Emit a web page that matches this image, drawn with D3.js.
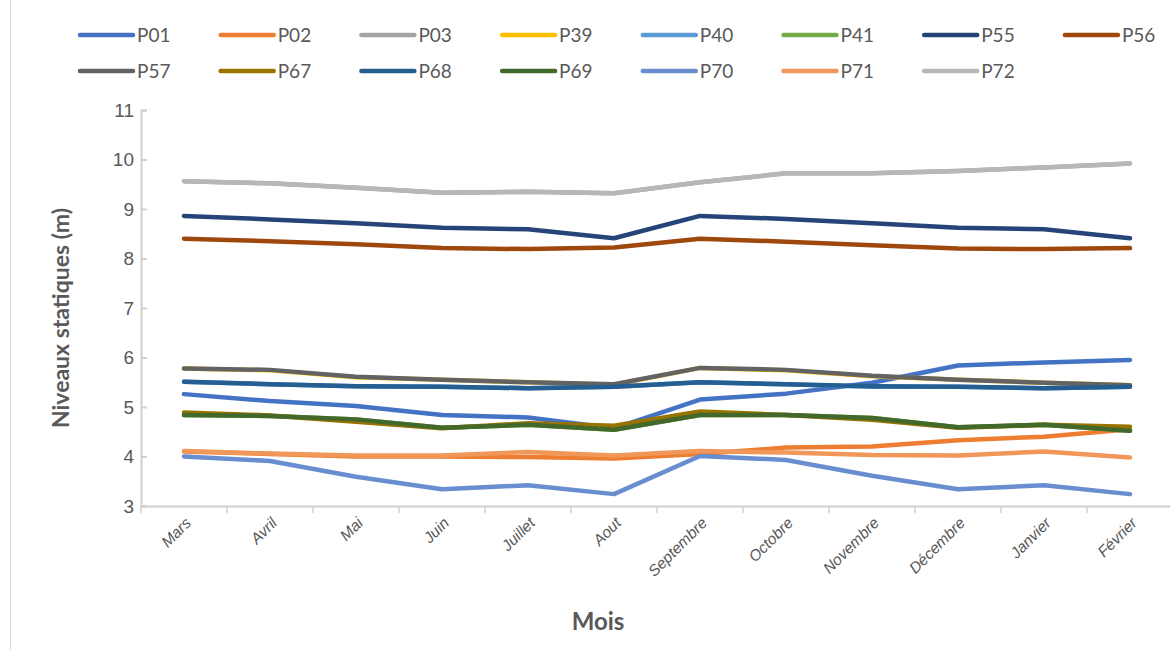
<!DOCTYPE html>
<html>
<head>
<meta charset="utf-8">
<script src="https://cdn.jsdelivr.net/npm/d3@7"></script>
<style>
  body { margin: 0; background: #fff; }
  svg { font-family: Lato, 'Open Sans', sans-serif; }
</style>
</head>
<body>
<svg width="1170" height="650"></svg>
<script>
const months = ['Mars', 'Avril', 'Mai', 'Juin', 'Juillet', 'Aout', 'Septembre', 'Octobre', 'Novembre', 'Décembre', 'Janvier', 'Février'];
const yTicks = [3, 4, 5, 6, 7, 8, 9, 10, 11];

const P01 = [5.26, 5.12, 5.02, 4.84, 4.79, 4.57, 5.15, 5.27, 5.49, 5.84, 5.90, 5.95];
const P02 = [4.10, 4.05, 4.00, 4.00, 3.99, 3.96, 4.05, 4.18, 4.20, 4.33, 4.40, 4.55];
const P03 = [9.56, 9.52, 9.43, 9.33, 9.35, 9.32, 9.54, 9.72, 9.72, 9.77, 9.84, 9.92];
const P39 = [5.78, 5.74, 5.60, 5.55, 5.50, 5.45, 5.79, 5.74, 5.62, 5.55, 5.49, 5.44];
const P40 = [5.51, 5.46, 5.42, 5.41, 5.38, 5.41, 5.50, 5.46, 5.41, 5.41, 5.38, 5.41];
const P41 = [4.84, 4.82, 4.75, 4.58, 4.64, 4.54, 4.84, 4.84, 4.78, 4.59, 4.64, 4.52];
const P55 = [8.86, 8.79, 8.71, 8.62, 8.59, 8.41, 8.86, 8.80, 8.71, 8.62, 8.59, 8.41];
const P56 = [8.40, 8.35, 8.29, 8.21, 8.19, 8.22, 8.40, 8.34, 8.27, 8.20, 8.19, 8.21];
const P57 = [5.78, 5.75, 5.61, 5.55, 5.50, 5.46, 5.79, 5.75, 5.63, 5.55, 5.49, 5.44];
const P67 = [4.89, 4.83, 4.70, 4.57, 4.67, 4.62, 4.91, 4.84, 4.74, 4.58, 4.64, 4.60];
const P68 = [5.51, 5.46, 5.42, 5.41, 5.38, 5.41, 5.50, 5.46, 5.42, 5.41, 5.38, 5.41];
const P69 = [4.84, 4.82, 4.75, 4.58, 4.64, 4.54, 4.84, 4.84, 4.78, 4.59, 4.64, 4.52];
const P70 = [4.00, 3.91, 3.59, 3.34, 3.42, 3.24, 4.01, 3.93, 3.61, 3.34, 3.42, 3.24];
const P71 = [4.11, 4.06, 4.02, 4.02, 4.09, 4.02, 4.11, 4.08, 4.03, 4.02, 4.10, 3.98];
const P72 = [9.56, 9.52, 9.43, 9.33, 9.35, 9.32, 9.54, 9.72, 9.72, 9.77, 9.84, 9.92];

const seriesNames = ['P01', 'P02', 'P03', 'P39', 'P40', 'P41', 'P55', 'P56', 'P57', 'P67', 'P68', 'P69', 'P70', 'P71', 'P72'];
const seriesValues = [P01, P02, P03, P39, P40, P41, P55, P56, P57, P67, P68, P69, P70, P71, P72];
const colors = ['#4472C4', '#ED7D31', '#A5A5A5', '#FFC000', '#5B9BD5', '#70AD47', '#264478', '#9E480E',
  '#636363', '#997300', '#255E91', '#43682B', '#698ED0', '#F1975A', '#B7B7B7'];

const series = seriesNames.map((name, i) => ({ name: name, values: seriesValues[i], color: colors[i] }));

const svg = d3.select('svg');
const textColor = '#595959';
const axisColor = '#D0D0D0';

// frame line on the left
svg.append('line')
  .attr('x1', 10.5).attr('x2', 10.5).attr('y1', 0).attr('y2', 650)
  .attr('stroke', '#D9D9D9').attr('stroke-width', 1);

const x = d3.scaleBand().domain(months).range([141, 1173]);
const y = d3.scaleLinear().domain([3, 11]).range([506, 110]);
const px = (m) => x(m) + x.bandwidth() / 2;

// y axis
const yAxis = svg.append('g').attr('class', 'axis axis-y').attr('transform', 'translate(141,0)')
  .call(d3.axisRight(y).tickValues(yTicks).tickSize(6).tickFormat(d3.format('d')));
yAxis.select('.domain').attr('stroke', axisColor).attr('stroke-width', 2);
yAxis.selectAll('.tick line').attr('stroke', axisColor).attr('stroke-width', 2);
yAxis.selectAll('.tick text')
  .attr('x', -7).attr('text-anchor', 'end')
  .attr('fill', textColor).style('font-size', '19px');

// x axis
const xAxis = svg.append('g').attr('class', 'axis axis-x').attr('transform', 'translate(0,506)')
  .call(d3.axisBottom(x).tickSize(0).tickSizeOuter(0));
xAxis.select('.domain').attr('stroke', axisColor).attr('stroke-width', 2);
xAxis.selectAll('.tick line').remove();
xAxis.selectAll('.tick text')
  .attr('fill', textColor)
  .style('font-size', '15.5px')
  .style('font-style', 'italic')
  .attr('text-anchor', 'end')
  .attr('x', 0).attr('y', 0).attr('dy', '0')
  .attr('transform', 'translate(8,18) rotate(-45)');

// boundary ticks between categories
svg.append('g').selectAll('line')
  .data(months)
  .enter()
  .append('line')
  .attr('x1', (d) => x(d)).attr('x2', (d) => x(d))
  .attr('y1', 506).attr('y2', 513)
  .attr('stroke', axisColor).attr('stroke-width', 1.5);

// lines
const line = d3.line()
  .x((d, i) => px(months[i]))
  .y((d) => y(d));

svg.append('g').selectAll('path')
  .data(series)
  .enter()
  .append('path')
  .attr('d', (d) => line(d.values))
  .attr('fill', 'none')
  .attr('stroke', (d) => d.color)
  .attr('stroke-width', 4.5)
  .attr('stroke-linecap', 'round')
  .attr('stroke-linejoin', 'round');

// axis titles
svg.append('text')
  .attr('transform', 'translate(69,318) rotate(-90)')
  .attr('text-anchor', 'middle')
  .attr('fill', textColor)
  .style('font-size', '23px')
  .style('font-weight', 'bold')
  .text('Niveaux statiques (m)');

svg.append('text')
  .attr('x', 598).attr('y', 630)
  .attr('text-anchor', 'middle')
  .attr('fill', textColor)
  .style('font-size', '24px')
  .style('font-weight', 'bold')
  .text('Mois');

// legend
const legend = svg.append('g').selectAll('g')
  .data(series)
  .enter()
  .append('g')
  .attr('transform', (d, i) => 'translate(' + (80 + (i % 8) * 140.7) + ',' + (35 + Math.floor(i / 8) * 36) + ')');

legend.append('line')
  .attr('x1', 0).attr('x2', 53).attr('y1', 0).attr('y2', 0)
  .attr('stroke', (d) => d.color)
  .attr('stroke-width', 4.5)
  .attr('stroke-linecap', 'round');

legend.append('text')
  .attr('x', 57).attr('y', 0).attr('dy', '0.35em')
  .attr('fill', textColor)
  .style('font-size', '19px')
  .text((d) => d.name);
</script>
</body>
</html>
